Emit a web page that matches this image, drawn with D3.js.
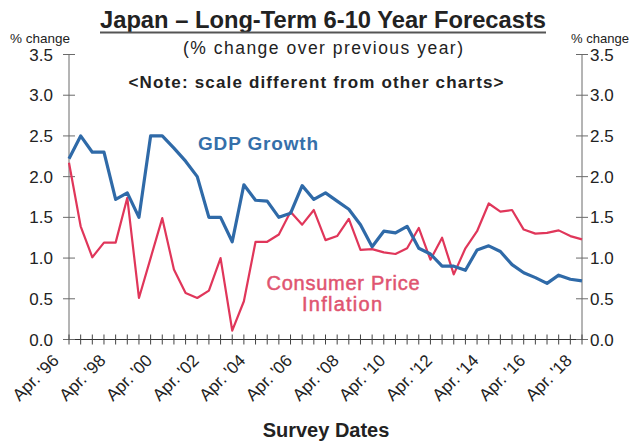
<!DOCTYPE html>
<html><head><meta charset="utf-8">
<script src="https://cdn.jsdelivr.net/npm/d3@7"></script>
<style>body{margin:0;background:#fff}svg{display:block}text{font-family:"Liberation Sans",Arial,sans-serif}</style>
</head><body><svg id="c" width="629" height="441"></svg>
<script>
const surveyDates = ["Apr. '96","Oct. '96","Apr. '97","Oct. '97","Apr. '98","Oct. '98","Apr. '99","Oct. '99","Apr. '00","Oct. '00","Apr. '01","Oct. '01","Apr. '02","Oct. '02","Apr. '03","Oct. '03","Apr. '04","Oct. '04","Apr. '05","Oct. '05","Apr. '06","Oct. '06","Apr. '07","Oct. '07","Apr. '08","Oct. '08","Apr. '09","Oct. '09","Apr. '10","Oct. '10","Apr. '11","Oct. '11","Apr. '12","Oct. '12","Apr. '13","Oct. '13","Apr. '14","Oct. '14","Apr. '15","Oct. '15","Apr. '16","Oct. '16","Apr. '17","Oct. '17","Apr. '18"];
const xTickLabels = ["Apr. '96","Apr. '98","Apr. '00","Apr. '02","Apr. '04","Apr. '06","Apr. '08","Apr. '10","Apr. '12","Apr. '14","Apr. '16","Apr. '18"];
const gdpGrowth = [2.22,2.5,2.3,2.3,1.72,1.8,1.5,2.5,2.5,2.35,2.19,2.0,1.5,1.5,1.2,1.9,1.71,1.7,1.5,1.55,1.89,1.72,1.8,1.7,1.6,1.41,1.14,1.33,1.31,1.39,1.12,1.05,0.9,0.9,0.85,1.1,1.15,1.08,0.92,0.82,0.76,0.69,0.79,0.74,0.72];
const cpiInflation = [2.17,1.39,1.01,1.19,1.19,1.74,0.51,1.0,1.49,0.86,0.57,0.51,0.6,1.0,0.11,0.47,1.2,1.2,1.29,1.57,1.41,1.59,1.22,1.27,1.48,1.1,1.11,1.07,1.05,1.12,1.37,0.98,1.25,0.8,1.12,1.33,1.67,1.57,1.59,1.35,1.3,1.31,1.34,1.27,1.23];
const yTicks = [0,0.5,1.0,1.5,2.0,2.5,3.0,3.5];

const svg = d3.select("#c");
const x = d3.scalePoint().domain(surveyDates).range([69, 582]);
const y = d3.scaleLinear().domain([0, 3.5]).range([339.5, 54.5]);
const axisCol = "#6a6a6a";

// Title
svg.append("text").attr("x", 323).attr("y", 28).attr("text-anchor", "middle")
  .attr("font-size", 24).attr("font-weight", "bold").attr("fill", "#222")
  .attr("textLength", 446).attr("lengthAdjust", "spacingAndGlyphs")
  .text("Japan – Long-Term 6-10 Year Forecasts");
svg.append("line").attr("x1", 100).attr("x2", 546).attr("y1", 32.5).attr("y2", 32.5)
  .attr("stroke", "#555").attr("stroke-width", 2);
svg.append("text").attr("x", 323).attr("y", 54).attr("text-anchor", "middle")
  .attr("font-size", 17.5).attr("fill", "#222").attr("textLength", 280)
  .text("(% change over previous year)");
svg.append("text").attr("x", 316).attr("y", 88).attr("text-anchor", "middle")
  .attr("font-size", 17).attr("font-weight", "bold").attr("fill", "#222").attr("textLength", 375)
  .text("<Note: scale different from other charts>");

// % change labels
svg.append("text").attr("x", 10).attr("y", 43).attr("font-size", 13).attr("fill", "#222")
  .attr("textLength", 60).attr("lengthAdjust", "spacingAndGlyphs").text("% change");
svg.append("text").attr("x", 571).attr("y", 43).attr("font-size", 13).attr("fill", "#222")
  .attr("textLength", 58).attr("lengthAdjust", "spacingAndGlyphs").text("% change");

// Axes
const g = svg.append("g");
g.append("line").attr("x1", 69).attr("x2", 69).attr("y1", y(3.5)).attr("y2", y(0)).attr("stroke", axisCol);
g.append("line").attr("x1", 582).attr("x2", 582).attr("y1", y(3.5)).attr("y2", y(0)).attr("stroke", axisCol);
g.append("line").attr("x1", 64).attr("x2", 587).attr("y1", y(0)).attr("y2", y(0)).attr("stroke", "#333");
yTicks.forEach(t => {
  [69, 582].forEach(ax => {
    g.append("line").attr("x1", ax - 6).attr("x2", ax + 6).attr("y1", y(t)).attr("y2", y(t)).attr("stroke", axisCol);
  });
  g.append("text").attr("x", 53).attr("y", y(t)).attr("dy", "0.36em").attr("text-anchor", "end")
    .attr("font-size", 17).attr("fill", "#222").text(t.toFixed(1));
  g.append("text").attr("x", 590).attr("y", y(t)).attr("dy", "0.36em").attr("text-anchor", "start")
    .attr("font-size", 17).attr("fill", "#222").text(t.toFixed(1));
});
surveyDates.forEach(d => {
  g.append("line").attr("x1", x(d)).attr("x2", x(d)).attr("y1", y(0) - 5).attr("y2", y(0) + 5)
    .attr("stroke", "#444");
});
xTickLabels.forEach(d => {
  const px = x(d) - 9, py = y(0) + 22;
  g.append("text").attr("transform", `translate(${px},${py}) rotate(-45)`)
    .attr("text-anchor", "end").attr("font-size", 17).attr("fill", "#222").text(d);
});
svg.append("text").attr("x", 326).attr("y", 437).attr("text-anchor", "middle")
  .attr("font-size", 20).attr("font-weight", "bold").attr("fill", "#222")
  .text("Survey Dates");

// Lines
const line = vals => d3.line().x((v, i) => x(surveyDates[i])).y(v => y(v))(vals);
svg.append("path").attr("d", line(cpiInflation)).attr("fill", "none")
  .attr("stroke", "#e0365a").attr("stroke-width", 2.2).attr("stroke-linejoin", "round");
svg.append("path").attr("d", line(gdpGrowth)).attr("fill", "none")
  .attr("stroke", "#2f6aa8").attr("stroke-width", 3.2).attr("stroke-linejoin", "round");

// Series labels
svg.append("text").attr("x", 258).attr("y", 150).attr("text-anchor", "middle")
  .attr("font-size", 19).attr("font-weight", "bold").attr("fill", "#3570aa")
  .attr("textLength", 120).text("GDP Growth");
svg.append("text").attr("x", 343).attr("y", 290).attr("text-anchor", "middle")
  .attr("font-size", 20).attr("fill", "#e05470").attr("stroke", "#e05470").attr("stroke-width", 0.5)
  .attr("textLength", 153).text("Consumer Price");
svg.append("text").attr("x", 342).attr("y", 311).attr("text-anchor", "middle")
  .attr("font-size", 20).attr("fill", "#e05470").attr("stroke", "#e05470").attr("stroke-width", 0.5)
  .attr("textLength", 80).text("Inflation");
</script></body></html>
